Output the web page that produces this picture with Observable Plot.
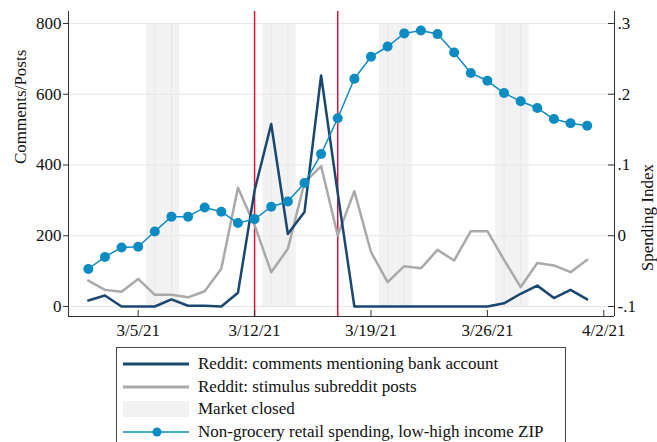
<!DOCTYPE html>
<html>
<head>
<meta charset="utf-8">
<script src="https://cdn.jsdelivr.net/npm/d3@7"></script>
<script src="https://cdn.jsdelivr.net/npm/@observablehq/plot@0.6"></script>
<style>
  html, body { margin: 0; padding: 0; background: white; }
  #wrap { position: relative; width: 657px; height: 442px; overflow: hidden; font-family: "Liberation Serif", "Times New Roman", serif; }
  #legend { position: absolute; left: 116px; top: 347px; width: 450px; height: 100px; border: 1px solid #444; box-sizing: border-box; background: white; }
  .row { position: absolute; left: 0; height: 22px; display: flex; align-items: center; font-size: 17px; color: #111; white-space: nowrap; }
  .row svg { margin-left: 6px; margin-right: 9px; }
  svg text { font-family: "Liberation Serif", "Times New Roman", serif; }
</style>
</head>
<body>
<div id="wrap">
  <div id="chart"></div>
  <div id="legend"></div>
</div>
<script>
// ---- data ----
const dates = ["2021-03-02","2021-03-03","2021-03-04","2021-03-05","2021-03-06","2021-03-07","2021-03-08","2021-03-09","2021-03-10","2021-03-11","2021-03-12","2021-03-13","2021-03-14","2021-03-15","2021-03-16","2021-03-17","2021-03-18","2021-03-19","2021-03-20","2021-03-21","2021-03-22","2021-03-23","2021-03-24","2021-03-25","2021-03-26","2021-03-27","2021-03-28","2021-03-29","2021-03-30","2021-03-31","2021-04-01"];
const bankComments = [17,31,0,0,0,20,2,2,0,39,328,516,205,267,653,320,0,0,0,0,0,0,0,0,0,9,36,59,24,47,20];
const stimulusPosts = [73,47,42,78,33,33,26,43,107,336,230,97,163,350,397,201,326,154,69,114,108,160,130,213,213,132,55,123,116,97,132];
const spending = [-0.047,-0.030,-0.0165,-0.0155,0.006,0.027,0.027,0.040,0.034,0.018,0.0235,0.041,0.0485,0.0745,0.1155,0.166,0.222,0.253,0.2675,0.286,0.290,0.285,0.259,0.230,0.219,0.2017,0.190,0.1805,0.165,0.159,0.1555];
const marketClosed = ["2021-03-06","2021-03-07","2021-03-13","2021-03-14","2021-03-20","2021-03-21","2021-03-27","2021-03-28"];
const eventDates = ["2021-03-12","2021-03-17"];
const xTickDates = ["2021-03-05","2021-03-12","2021-03-19","2021-03-26","2021-04-02"];
const leftTicks = [0,200,400,600,800];
const rightTicks = [-0.1,0,0.1,0.2,0.3];
const rightTickLabels = ["-.1","0",".1",".2",".3"];
const seriesNames = ["Reddit: comments mentioning bank account","Reddit: stimulus subreddit posts","Market closed","Non-grocery retail spending, low-high income ZIP"];

// ---- setup ----
const parse = d3.utcParse("%Y-%m-%d");
const DAY = 864e5;
const C_DARK = "#1a476f", C_GRAY = "#a9a9a9", C_BLUE = "#0d8bc3", C_RED = "#d4163c", C_SHADE = "#f2f2f2";
// right (spending) axis mapped onto left scale: -.1 -> 0, .3 -> 800
const toLeft = v => (v + 0.1) * 2000;
const labelByPos = new Map(rightTicks.map((v, i) => [Math.round(toLeft(v)), rightTickLabels[i]]));

const rows = dates.map((d, i) => ({
  date: parse(d), bank: bankComments[i], stim: stimulusPosts[i], spend: toLeft(spending[i])
}));
const closed = marketClosed.map(d => ({x1: new Date(+parse(d) - DAY/2), x2: new Date(+parse(d) + DAY/2), mid: parse(d)}));

const xDomain = [new Date(+parse("2021-03-05") - 4.19*DAY), new Date(+parse("2021-04-02") + 0.643*DAY)];
const yDomain = [-28.27, 833.9];

const chart = Plot.plot({
  width: 657, height: 342,
  marginLeft: 68, marginRight: 43, marginTop: 11, marginBottom: 26,
  style: {fontFamily: "'Liberation Serif', 'Times New Roman', serif", fontSize: "17px", background: "white", color: "#111"},
  x: {type: "utc", domain: xDomain},
  y: {domain: yDomain},
  marks: [
    Plot.rect(closed, {x1: "x1", x2: "x2", y1: 0, y2: 800, fill: C_SHADE}),
    Plot.ruleY(leftTicks, {stroke: "#e6e6e6", strokeWidth: 1}),
    Plot.ruleX(closed, {x: "mid", y1: 0, y2: 800, stroke: "#e8e8e8", strokeWidth: 1}),
    Plot.ruleX(eventDates.map(parse), {stroke: C_RED, strokeWidth: 1.5}),
    Plot.line(rows, {x: "date", y: "stim", stroke: C_GRAY, strokeWidth: 2.5}),
    Plot.line(rows, {x: "date", y: "bank", stroke: C_DARK, strokeWidth: 2.5}),
    Plot.line(rows, {x: "date", y: "spend", stroke: C_BLUE, strokeWidth: 1.5}),
    Plot.dot(rows, {x: "date", y: "spend", r: 5, fill: C_BLUE, stroke: "none"}),
    // frame: left, right, bottom
    Plot.ruleX(xDomain, {stroke: "#333", strokeWidth: 1}),
    Plot.ruleY([yDomain[0]], {stroke: "#333", strokeWidth: 1}),
    Plot.axisY(leftTicks, {anchor: "left", tickSize: 5, tickPadding: 2, stroke: "#333", fill: "#111", label: null}),
    Plot.axisY(leftTicks, {anchor: "right", tickSize: -7, tickPadding: 10, tickFormat: d => labelByPos.get(Math.round(d)), stroke: "#333", fill: "#111", label: null, textAnchor: "start"}),
    Plot.axisX(xTickDates.map(parse), {tickSize: -6, tickPadding: 13, tickFormat: d3.utcFormat("%-m/%-d/%y"), stroke: "#333", fill: "#111", label: null}),
    Plot.text(["Comments/Posts"], {frameAnchor: "left", rotate: -90, dx: -48, fill: "#111"}),
    Plot.text(["Spending Index"], {frameAnchor: "right", rotate: -90, dx: 33, fill: "#111"})
  ]
});
document.getElementById("chart").appendChild(chart);

// ---- legend ----
const legend = document.getElementById("legend");
const swatches = [
  `<line x1="0" y1="8" x2="66" y2="8" stroke="${C_DARK}" stroke-width="3"/>`,
  `<line x1="0" y1="8" x2="66" y2="8" stroke="${C_GRAY}" stroke-width="3"/>`,
  `<rect x="0" y="0" width="66" height="16" fill="${C_SHADE}"/>`,
  `<line x1="0" y1="8" x2="66" y2="8" stroke="${C_BLUE}" stroke-width="1.5"/><circle cx="34" cy="8" r="4.5" fill="${C_BLUE}"/>`
];
const rowTops = [5, 27.5, 50, 73];
seriesNames.forEach((name, i) => {
  const r = document.createElement("div");
  r.className = "row";
  r.style.top = rowTops[i] + "px";
  r.innerHTML = `<svg width="66" height="16">${swatches[i]}</svg><span>${name}</span>`;
  legend.appendChild(r);
});
</script>
</body>
</html>
